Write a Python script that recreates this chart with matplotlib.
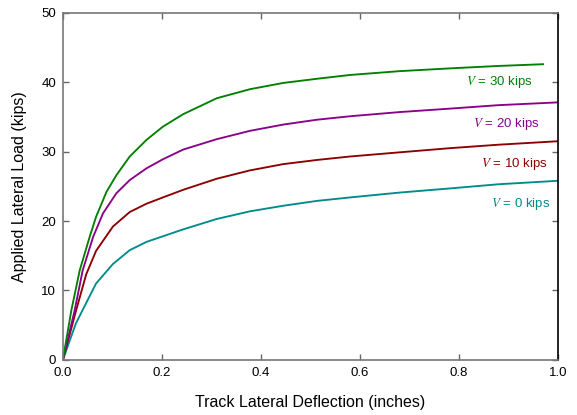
import matplotlib

matplotlib.use("Agg")
import matplotlib.pyplot as plt
from matplotlib.ticker import FormatStrFormatter

# Load-deflection curves: deflection [in], load [kips]
defl_v0 = [0.0, 0.026, 0.04, 0.067, 0.101, 0.135, 0.169, 0.202, 0.243, 0.311,
           0.378, 0.445, 0.513, 0.58, 0.68, 0.782, 0.88, 1.0]
load_v0 = [0.0, 5.2, 7.2, 11.0, 13.8, 15.8, 17.0, 17.8, 18.8, 20.3,
           21.4, 22.2, 22.9, 23.4, 24.1, 24.7, 25.3, 25.8]

defl_v10 = [0.0, 0.027, 0.047, 0.067, 0.101, 0.135, 0.169, 0.202, 0.243, 0.311,
            0.378, 0.445, 0.513, 0.58, 0.68, 0.782, 0.88, 1.0]
load_v10 = [0.0, 7.2, 12.3, 15.7, 19.2, 21.3, 22.5, 23.4, 24.5, 26.1,
            27.3, 28.2, 28.8, 29.3, 29.9, 30.5, 31.0, 31.5]

defl_v20 = [0.0, 0.024, 0.04, 0.061, 0.081, 0.108, 0.135, 0.169, 0.202, 0.243,
            0.311, 0.378, 0.445, 0.513, 0.58, 0.68, 0.782, 0.88, 1.0]
load_v20 = [0.0, 7.2, 12.9, 17.7, 21.1, 24.0, 25.9, 27.6, 28.9, 30.3,
            31.8, 33.0, 33.9, 34.6, 35.1, 35.7, 36.2, 36.7, 37.1]

defl_v30 = [0.0, 0.017, 0.034, 0.054, 0.067, 0.088, 0.108, 0.135, 0.169, 0.202,
            0.243, 0.311, 0.378, 0.445, 0.513, 0.58, 0.68, 0.782, 0.88, 0.97]
load_v30 = [0.0, 7.1, 12.9, 17.7, 20.6, 24.2, 26.6, 29.3, 31.7, 33.6,
            35.4, 37.7, 39.0, 39.9, 40.5, 41.05, 41.6, 42.0, 42.35, 42.6]

vert_loads = ["0", "10", "20", "30"]
colors = ["#008b8b", "#8b0000", "#8b008b", "#008000"]

plt.rcParams["font.family"] = ["Liberation Sans", "DejaVu Sans"]
plt.rcParams["mathtext.fontset"] = "stix"

fig = plt.figure(figsize=(5.77, 4.15), dpi=100)
ax = fig.add_axes([0.109, 0.133, 0.858, 0.836])

curves = [(defl_v0, load_v0), (defl_v10, load_v10), (defl_v20, load_v20), (defl_v30, load_v30)]
# label anchors (right edge, centre) in data coords
label_pos = [(0.985, 22.5), (0.98, 28.2), (0.963, 34.0), (0.949, 40.1)]

for (x, y), v, color, (lx, ly) in zip(curves, vert_loads, colors, label_pos):
    ax.plot(x, y, color=color, lw=1.35)
    ax.text(lx, ly, r"$\mathit{V}$" + f" = {v} kips", color=color, fontsize=9.5,
            ha="right", va="center")

ax.set_xlim(0, 1.0)
ax.set_ylim(0, 50)
ax.set_xticks([0.0, 0.2, 0.4, 0.6, 0.8, 1.0])
ax.set_yticks([0, 10, 20, 30, 40, 50])
ax.xaxis.set_major_formatter(FormatStrFormatter("%.1f"))
ax.tick_params(direction="in", top=True, right=True, length=4, width=1,
               color="#666666", labelsize=9.5, pad=5)
for side in ("left", "bottom", "top"):
    ax.spines[side].set_color("#777777")
    ax.spines[side].set_linewidth(1.2)
ax.spines["right"].set_color("black")
ax.spines["right"].set_linewidth(1.2)

ax.set_xlabel("Track Lateral Deflection (inches)", fontsize=11.5, labelpad=12)
ax.set_ylabel("Applied Lateral Load (kips)", fontsize=11.5, labelpad=10)

fig.savefig("out.png", dpi=100)
